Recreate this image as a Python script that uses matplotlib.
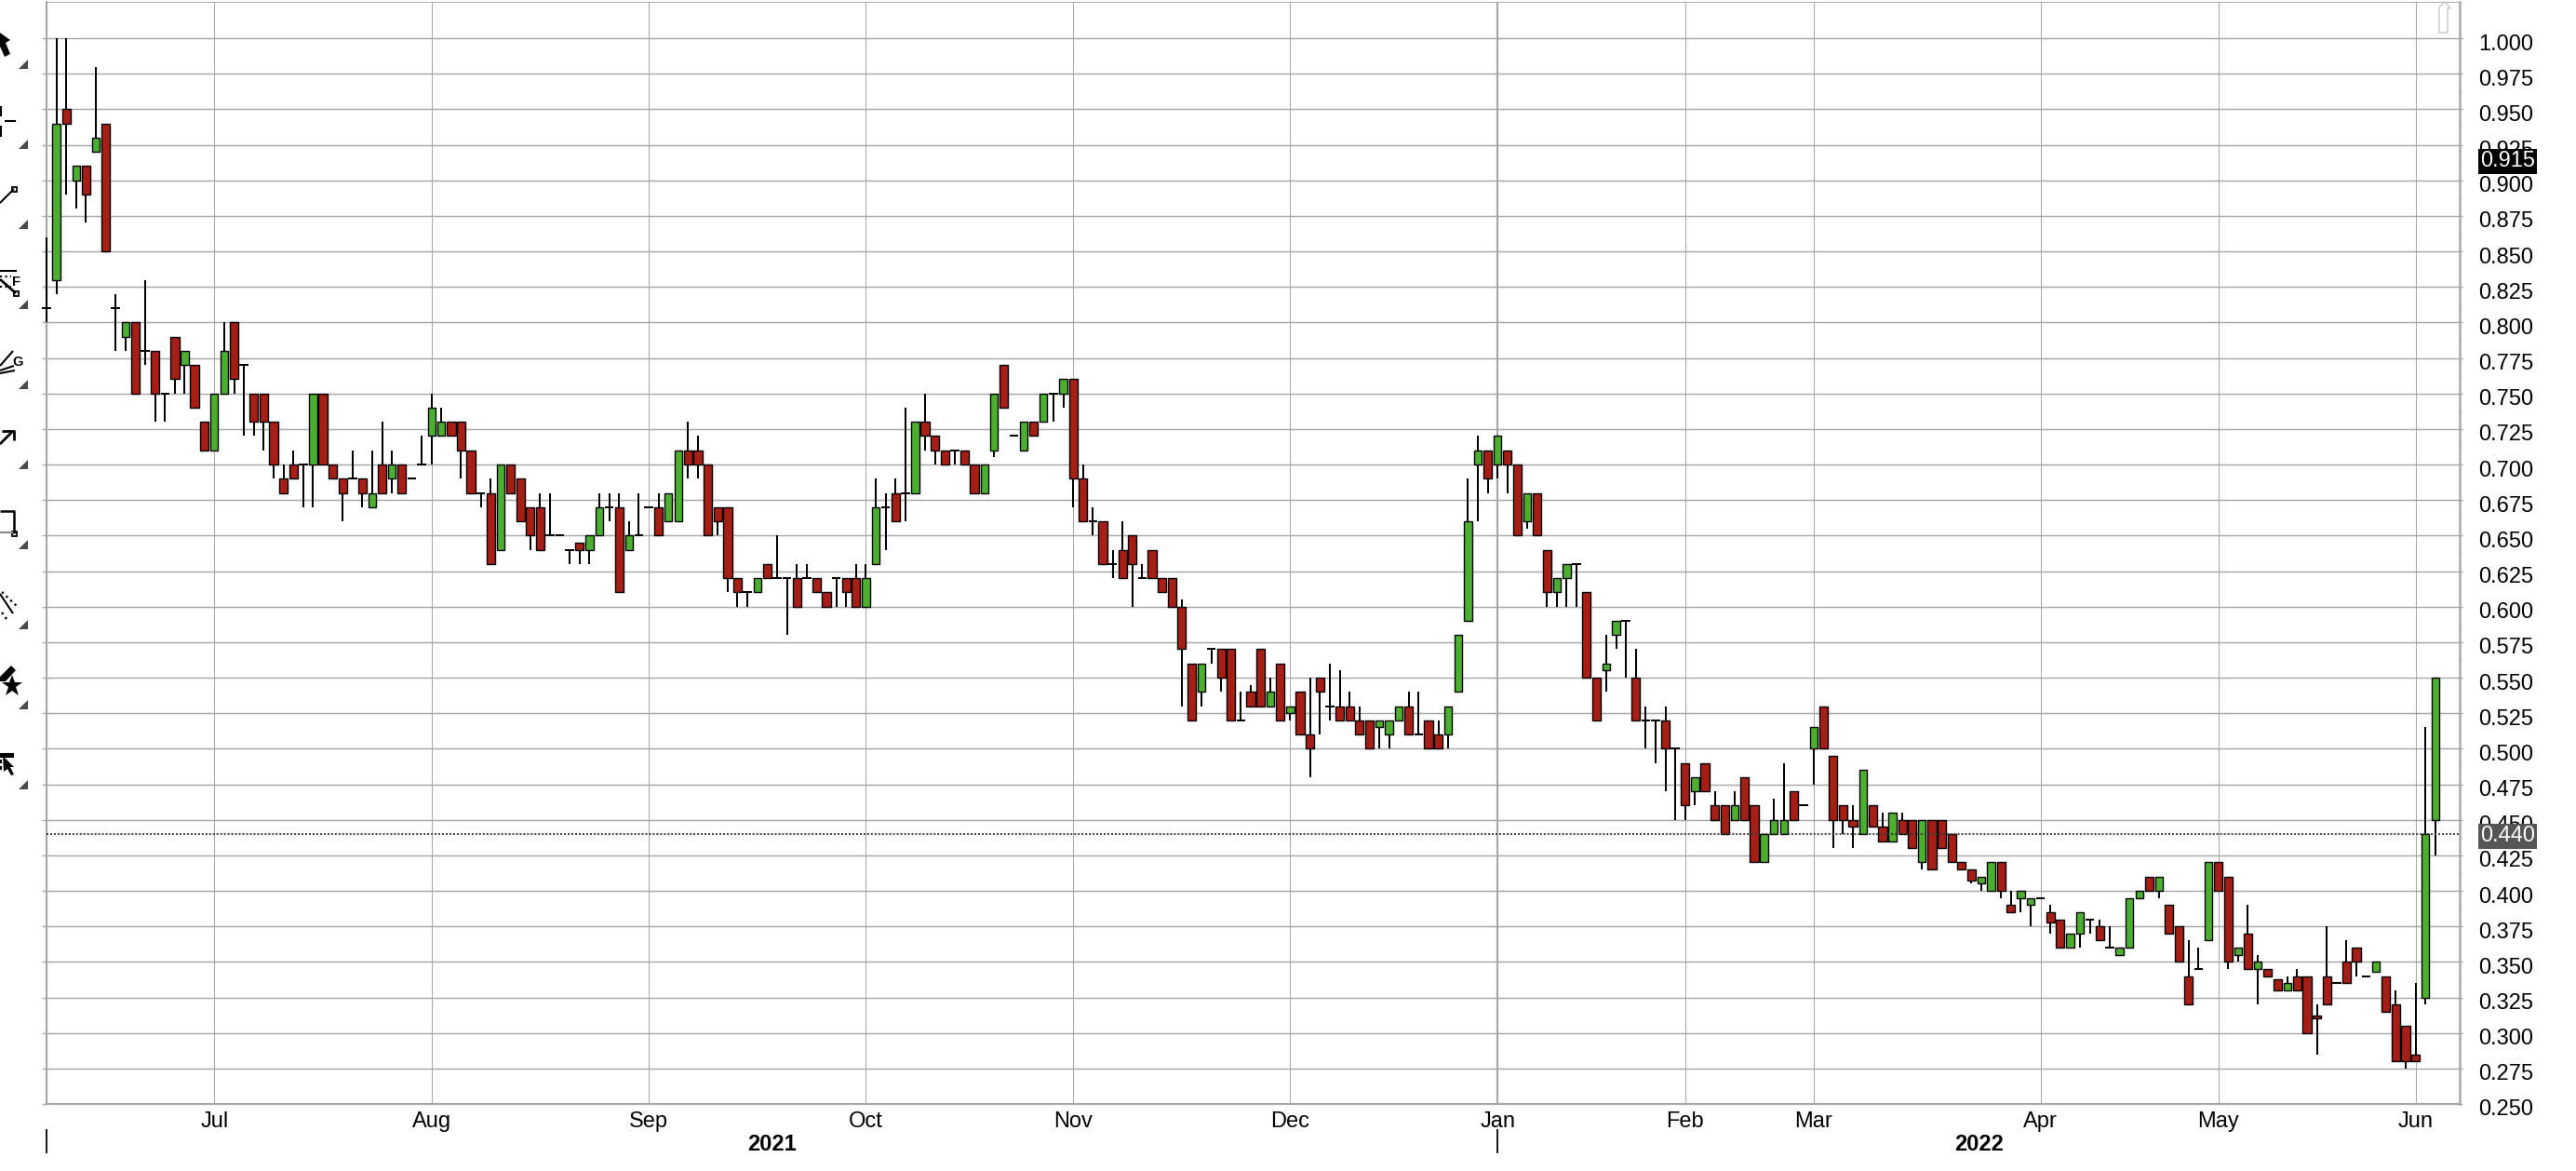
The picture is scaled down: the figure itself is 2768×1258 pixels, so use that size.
import matplotlib
matplotlib.use("Agg")
import matplotlib.pyplot as plt
import numpy as np
from matplotlib.patches import Polygon, Rectangle
from matplotlib.ticker import FixedLocator
from matplotlib.transforms import ScaledTranslation

plt.rcParams["font.family"] = ["Liberation Sans", "DejaVu Sans"]

# daily bars, one entry per trading day
opens = [
    .81, .83, .95, .90, .91, .92, .94, .81, .79, .80,
    .78, .78, .75, .79, .77, .77, .73, .71, .75, .80,
    .77, .75, .75, .73, .69, .70, .70, .70, .75, .70,
    .69, .69, .69, .67, .70, .69, .70, .69, .70, .72,
    .72, .73, .73, .71, .68, .68, .64, .70, .69, .67,
    .67, .65, .65, .64, .645, .64, .65, .67, .67, .64,
    .65, .67, .67, .66, .66, .71, .71, .70, .67, .67,
    .62, .61, .61, .63, .62, .62, .62, .62, .62, .61,
    .62, .62, .62, .60, .63, .67, .68, .68, .68, .73,
    .72, .71, .71, .71, .70, .68, .71, .77, .72, .71,
    .73, .73, .75, .75, .76, .69, .66, .66, .63, .64,
    .65, .62, .64, .62, .62, .60, .56, .54, .57, .57,
    .57, .52, .54, .57, .53, .56, .525, .54, .51, .55,
    .53, .53, .53, .52, .52, .515, .51, .52, .53, .51,
    .52, .51, .51, .54, .59, .70, .71, .70, .71, .70,
    .66, .68, .64, .61, .62, .63, .61, .55, .555, .58,
    .59, .55, .52, .52, .52, .50, .49, .47, .49, .46,
    .46, .45, .48, .46, .42, .44, .44, .47, .46, .50,
    .53, .495, .46, .45, .44, .46, .445, .435, .45, .45,
    .42, .45, .45, .44, .42, .415, .405, .40, .42, .39,
    .395, .39, .395, .385, .38, .36, .37, .38, .375, .36,
    .355, .36, .395, .41, .40, .39, .375, .34, .345, .365,
    .42, .41, .355, .37, .345, .345, .338, .33, .34, .34,
    .3125, .34, .335, .35, .36, .34, .343, .34, .32, .305,
    .285, .325, .45,
]
closes = [
    .81, .94, .94, .91, .89, .93, .85, .81, .80, .75,
    .78, .75, .75, .76, .78, .74, .71, .75, .78, .76,
    .77, .73, .73, .70, .68, .69, .70, .75, .70, .69,
    .68, .69, .68, .68, .68, .70, .68, .69, .70, .74,
    .73, .72, .71, .68, .68, .63, .70, .68, .66, .65,
    .64, .65, .65, .64, .64, .65, .67, .67, .61, .65,
    .65, .67, .65, .68, .71, .70, .70, .65, .66, .62,
    .61, .61, .62, .62, .62, .62, .60, .62, .61, .60,
    .62, .61, .60, .62, .67, .67, .66, .68, .73, .72,
    .71, .70, .71, .70, .68, .70, .75, .74, .72, .73,
    .72, .75, .75, .76, .69, .66, .66, .63, .63, .62,
    .63, .62, .62, .61, .60, .57, .52, .56, .57, .55,
    .52, .52, .53, .53, .54, .52, .53, .51, .50, .54,
    .53, .52, .52, .51, .50, .52, .52, .53, .51, .51,
    .50, .50, .53, .58, .66, .71, .69, .72, .70, .65,
    .68, .65, .61, .62, .63, .63, .55, .52, .56, .59,
    .59, .52, .52, .52, .50, .50, .46, .48, .47, .45,
    .44, .46, .45, .42, .44, .45, .45, .45, .46, .515,
    .50, .45, .45, .445, .485, .445, .435, .455, .44, .43,
    .45, .415, .43, .42, .415, .407, .41, .42, .40, .385,
    .40, .395, .395, .378, .36, .37, .385, .38, .365, .36,
    .36, .395, .40, .40, .41, .37, .35, .32, .345, .42,
    .40, .35, .36, .345, .35, .34, .33, .335, .33, .30,
    .31, .32, .335, .335, .35, .34, .35, .315, .28, .28,
    .28, .44, .55,
]
highs = [
    .86, 1.0, 1.0, .91, .91, .98, .94, .82, .80, .80,
    .83, .78, .75, .79, .78, .77, .73, .75, .80, .80,
    .77, .75, .75, .73, .70, .71, .70, .75, .75, .70,
    .69, .71, .69, .71, .73, .71, .70, .69, .72, .75,
    .74, .73, .73, .71, .68, .69, .70, .70, .69, .67,
    .68, .68, .65, .64, .645, .65, .68, .68, .68, .66,
    .68, .67, .68, .68, .71, .73, .72, .70, .67, .67,
    .62, .61, .62, .63, .65, .62, .63, .63, .62, .61,
    .62, .62, .63, .63, .69, .68, .69, .74, .73, .75,
    .72, .71, .71, .71, .70, .70, .75, .77, .72, .73,
    .73, .75, .75, .76, .76, .70, .67, .66, .64, .66,
    .65, .63, .64, .62, .62, .605, .56, .56, .57, .57,
    .57, .54, .545, .57, .55, .56, .53, .54, .55, .55,
    .56, .555, .54, .53, .52, .52, .52, .53, .54, .54,
    .52, .52, .53, .58, .69, .72, .71, .72, .71, .70,
    .68, .68, .64, .62, .63, .63, .61, .55, .58, .59,
    .59, .57, .53, .52, .53, .50, .49, .48, .49, .47,
    .46, .47, .48, .46, .44, .465, .49, .47, .46, .515,
    .53, .495, .46, .46, .485, .46, .455, .455, .455, .45,
    .45, .45, .45, .44, .42, .415, .41, .42, .42, .40,
    .40, .395, .395, .39, .38, .37, .385, .38, .38, .375,
    .36, .395, .40, .41, .41, .39, .375, .365, .36, .42,
    .42, .41, .36, .39, .355, .345, .338, .34, .345, .34,
    .32, .375, .335, .365, .36, .34, .35, .34, .33, .305,
    .335, .515, .55,
]
lows = [
    .80, .82, .89, .88, .87, .92, .85, .78, .78, .75,
    .77, .73, .73, .75, .75, .74, .71, .71, .75, .75,
    .72, .72, .71, .69, .68, .69, .67, .67, .70, .69,
    .66, .69, .67, .67, .68, .68, .68, .69, .70, .70,
    .72, .72, .69, .68, .67, .63, .64, .68, .66, .64,
    .64, .65, .65, .63, .63, .63, .65, .66, .61, .64,
    .65, .67, .65, .66, .66, .69, .69, .65, .65, .61,
    .60, .60, .61, .62, .62, .58, .60, .62, .61, .60,
    .60, .60, .60, .60, .63, .64, .66, .66, .68, .71,
    .70, .70, .70, .70, .68, .68, .705, .74, .72, .71,
    .72, .73, .73, .74, .67, .66, .65, .63, .62, .62,
    .60, .62, .62, .61, .60, .53, .52, .53, .56, .54,
    .52, .52, .53, .53, .53, .52, .52, .51, .48, .51,
    .52, .52, .52, .51, .50, .50, .50, .52, .51, .51,
    .50, .50, .50, .54, .59, .66, .68, .69, .68, .65,
    .655, .65, .60, .60, .60, .60, .55, .52, .54, .57,
    .55, .52, .50, .49, .47, .45, .45, .46, .47, .45,
    .44, .45, .45, .42, .42, .44, .44, .45, .46, .475,
    .50, .43, .44, .43, .44, .445, .435, .435, .44, .43,
    .415, .415, .43, .42, .415, .405, .40, .40, .395, .385,
    .385, .375, .395, .37, .36, .36, .36, .37, .365, .36,
    .355, .36, .395, .40, .395, .37, .35, .32, .345, .365,
    .40, .345, .35, .345, .32, .34, .33, .33, .33, .30,
    .285, .32, .335, .335, .34, .34, .343, .315, .28, .275,
    .28, .32, .425,
]

month_labels = ["Jul", "Aug", "Sep", "Oct", "Nov", "Dec", "Jan", "Feb", "Mar", "Apr", "May", "Jun"]
month_index = [17, 39, 61, 83, 104, 126, 147, 166, 179, 202, 220, 240]
year_labels = ["2021", "2022"]
year_start_index = [0, 147]
y_tick_labels = ["0.250", "0.275", "0.300", "0.325", "0.350", "0.375", "0.400", "0.425",
                 "0.450", "0.475", "0.500", "0.525", "0.550", "0.575", "0.600", "0.625",
                 "0.650", "0.675", "0.700", "0.725", "0.750", "0.775", "0.800", "0.825",
                 "0.850", "0.875", "0.900", "0.925", "0.950", "0.975", "1.000"]
y_ticks = [float(t) for t in y_tick_labels]
last_price = 0.440
top_price = 0.915

W, H = 2768, 1258
GRID = "#a8a8a8"
RED = "#a51f16"
GREEN = "#4caf30"
FS = 17

fig = plt.figure(figsize=(W / 100, H / 100), dpi=100, facecolor="white")
ax = fig.add_axes([50 / W, (H - 1186) / H, 2593 / W, (1186 - 2.4) / H])
ax.set_xlim(0, 244.46)
ax.set_ylim(0.25, 1.0253)
ax.set_axisbelow(True)

opens, closes, highs, lows = map(np.array, (opens, closes, highs, lows))
x = np.arange(len(opens))
up = closes > opens
down = closes < opens
flat = closes == opens

# wicks and bodies
ax.vlines(x, lows, highs, color="black", lw=1.45, zorder=3, clip_on=False)
ax.hlines(opens[flat], x[flat] - 0.45, x[flat] + 0.45, color="black", lw=1.45, zorder=3, clip_on=False)
ax.bar(x[down], opens[down] - closes[down], bottom=closes[down], width=0.87,
       color=RED, edgecolor="black", linewidth=1.0, zorder=3.2)
ax.bar(x[up], closes[up] - opens[up], bottom=opens[up], width=0.78,
       color=GREEN, edgecolor="black", linewidth=1.0, zorder=3.2)

ax.axhline(last_price, color="#333333", lw=1.3, ls=(0, (1.1, 1.1)), zorder=4)

# axes and grid
for name, lw in (("left", 1.6), ("right", 1.8), ("bottom", 1.6), ("top", 0.7)):
    ax.spines[name].set_color(GRID)
    ax.spines[name].set_linewidth(lw)

ax.set_xticks(month_index)
ax.set_xticklabels(month_labels, fontsize=FS)
ax.tick_params(axis="x", length=0, pad=6, colors="black")
ax.yaxis.set_major_locator(FixedLocator(y_ticks))
ax.set_yticklabels(y_tick_labels, fontsize=FS)
ax.tick_params(axis="y", which="major", left=True, right=True, labelleft=False, labelright=True,
               length=3.6, width=1.0, color=GRID, pad=11)
ax.yaxis.set_minor_locator(FixedLocator([v + 0.0125 for v in y_ticks[:-1]]))
ax.tick_params(axis="y", which="minor", left=False, right=True, length=1.2, width=0.9, color="#cccccc")
for tick in ax.yaxis.get_major_ticks():
    tick.tick2line.set_markersize(1.8)
    tick.label2.set_transform(tick.label2.get_transform() + ScaledTranslation(0, -4 / 100, fig.dpi_scale_trans))

ax.grid(True, axis="y", color=GRID, lw=1.05)
ax.grid(True, axis="x", color=GRID, lw=0.75)
ax.axvline(month_index[month_labels.index("Jan")], color=GRID, lw=1.6, zorder=1)

# year row under the months
xmax = ax.get_xlim()[1]
year_ends = year_start_index[1:] + [xmax]
year_trans = ax.get_xaxis_transform()
for label, start, end in zip(year_labels, year_start_index, year_ends):
    ax.text((start + end) / 2, -43 / (1186 - 2.4), label, transform=year_trans, fontsize=FS,
            fontweight="bold", ha="center", va="center")
    ax.plot([start, start], [-28 / 1183.6, -52 / 1183.6], transform=year_trans, color="black",
            lw=1.3, clip_on=False)

# price tags on the right
for value, bg in ((top_price, "black"), (last_price, "#555555")):
    ax.annotate(f"{value:.3f}", xy=(1, value), xycoords=("axes fraction", "data"), xytext=(51.5, 0),
                textcoords="offset pixels", ha="center", va="center_baseline", fontsize=FS, color="white",
                zorder=6, bbox=dict(boxstyle="square,pad=0.1", fc=bg, ec="none"))

# drawing toolbar, in pixel coordinates
ov = fig.add_axes([0, 0, 1, 1], zorder=5)
ov.set_xlim(0, W)
ov.set_ylim(H, 0)
ov.axis("off")


def stroke(pts, lw=1.5, color="black", ls="-"):
    xs, ys = zip(*pts)
    ov.plot(xs, ys, color=color, lw=lw, ls=ls, solid_capstyle="butt")


def handle(px, py):
    ov.add_patch(Rectangle((px - 2.5, py - 2.5), 5, 5, fc="white", ec="black", lw=1.3))


for ty in (64, 150, 236, 322, 408, 494, 580, 666, 752, 838):
    ov.add_patch(Polygon([(20, ty + 10), (30, ty + 10), (30, ty)], fc="#4a4a4a", ec="none"))

ov.add_patch(Polygon([(-3, 33), (11, 43), (6, 46), (11, 58), (5, 61), (0, 50), (-4, 52)], fc="black", ec="none"))

stroke([(1, 114), (1, 125)])
stroke([(1, 135), (1, 147)])
stroke([(5, 130), (17, 130)])

stroke([(0, 218), (15, 203)])
handle(15, 203)

stroke([(0, 291), (18, 291)])
stroke([(0, 297), (12, 297)], ls=":")
stroke([(0, 308), (12, 308)], ls=":")
stroke([(0, 300), (17, 315)], lw=2)
handle(17, 315)
ov.text(13, 303, "F", fontsize=10.5, fontweight="bold", va="center", ha="left")

stroke([(0, 393), (14, 377)])
stroke([(0, 398), (15, 393)])
stroke([(0, 401), (16, 398)])
ov.text(13, 389, "G", fontsize=10.5, fontweight="bold", va="center", ha="left")

stroke([(0, 477), (14, 463)], lw=2)
stroke([(2, 463), (15, 463), (15, 473)], lw=2)

stroke([(0, 572), (15, 572)], color="#888888")
stroke([(0, 549), (15, 549), (15, 573)], lw=1.8)
handle(15, 573)

stroke([(2, 636), (20, 653)], lw=1.7, ls=":")
stroke([(0, 638), (14, 659)], lw=1.5)
stroke([(2, 658), (7, 665)], lw=1.7, ls=":")

ov.add_patch(Polygon([(0, 727), (12, 715), (17, 720), (6, 732), (0, 732)], fc="black", ec="none"))
ov.plot([13], [737], marker="*", ms=17, color="black", mew=0)

ov.add_patch(Rectangle((0, 809), 15, 5, fc="black", ec="none"))
ov.add_patch(Rectangle((0, 816), 2, 4, fc="black", ec="none"))
ov.add_patch(Rectangle((0, 823), 2, 4, fc="black", ec="none"))
ov.add_patch(Polygon([(3, 812), (15, 824), (11, 824), (15, 832), (12, 833), (8, 826), (4, 829)],
                     fc="black", ec="none"))

# scroll arrow in the top right corner
ov.add_patch(Polygon([(2621, 35), (2630, 35), (2630, 9), (2633, 9), (2627, 2), (2621, 8)],
                     fc="white", ec="#cccccc", lw=1.1))

fig.savefig("out.png", dpi=100, facecolor="white")
